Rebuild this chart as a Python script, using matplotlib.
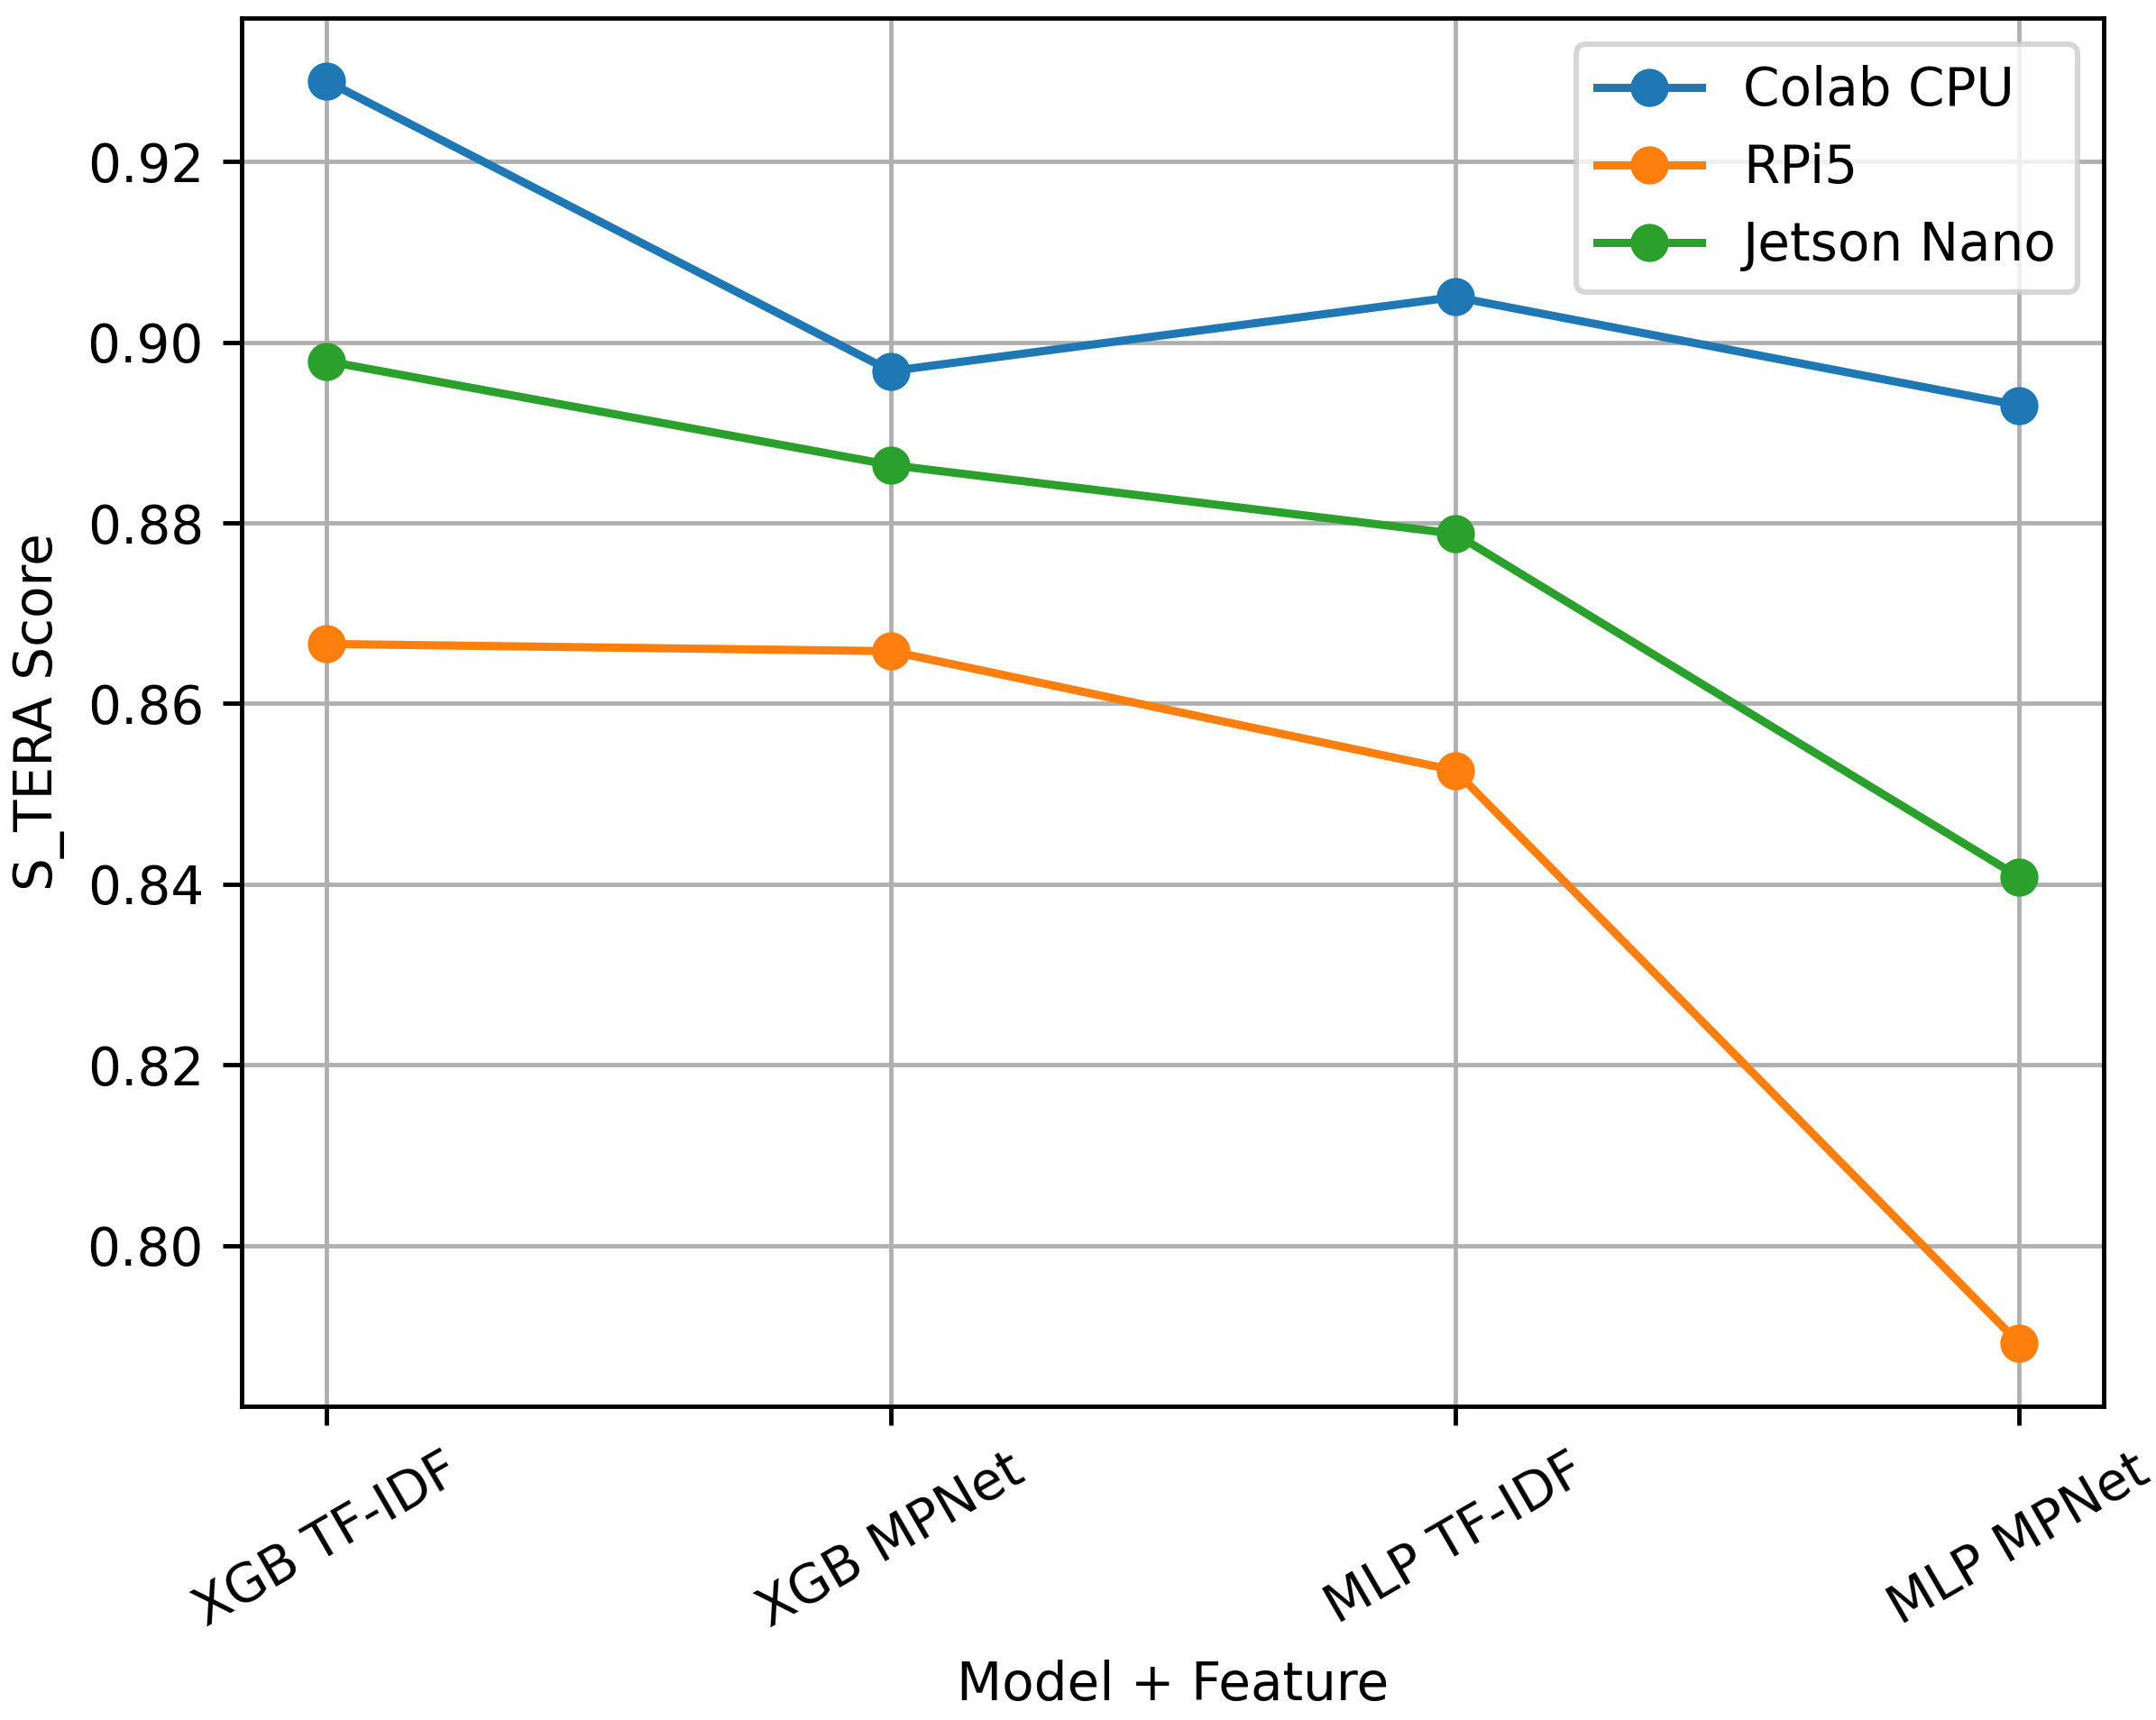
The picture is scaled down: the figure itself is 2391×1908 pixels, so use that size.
import matplotlib
matplotlib.use("Agg")
import matplotlib.pyplot as plt

models = ["XGB TF-IDF", "XGB MPNet", "MLP TF-IDF", "MLP MPNet"]
colab_cpu = [0.9289, 0.8968, 0.9050, 0.8930]
rpi5 = [0.8666, 0.8658, 0.8526, 0.7892]
jetson_nano = [0.8979, 0.8864, 0.8788, 0.8408]

plt.rcParams["font.size"] = 9.6

dpi = 435
fig = plt.figure(figsize=(2391 / dpi, 1908 / dpi), dpi=dpi)
ax = fig.add_subplot(111)

ax.plot(models, colab_cpu, marker="o", label="Colab CPU")
ax.plot(models, rpi5, marker="o", label="RPi5")
ax.plot(models, jetson_nano, marker="o", label="Jetson Nano")

ax.set_xlabel("Model + Feature")
ax.set_ylabel("S_TERA Score")
plt.xticks(rotation=30)
ax.grid(True)
ax.legend(loc="upper right")

fig.subplots_adjust(left=0.1122, right=0.9758, bottom=0.1823, top=0.9896)
fig.savefig("out.png", dpi=dpi)
